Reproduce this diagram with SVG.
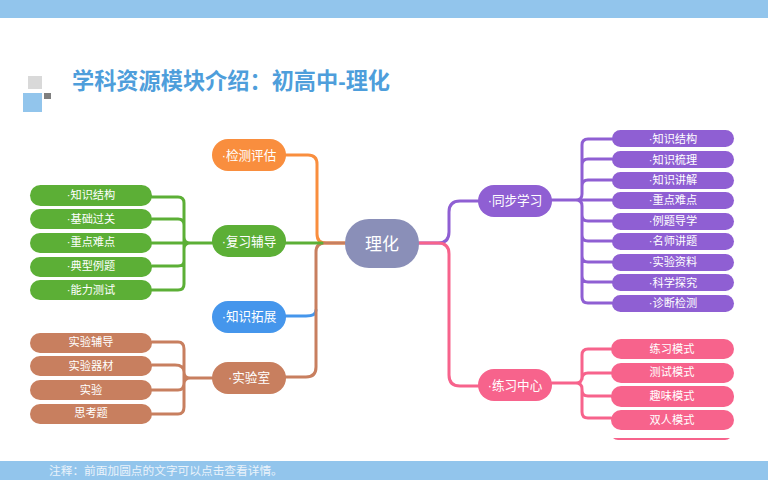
<svg xmlns="http://www.w3.org/2000/svg" width="768" height="480" viewBox="0 0 768 480">
<style>
text{font-family:"Liberation Sans","Noto Sans CJK SC",sans-serif;text-anchor:middle;fill:#fff}
.l{font-size:11.2px}
.m{font-size:12.6px}
.c{font-size:17px}
.w{fill:none;stroke-width:3;stroke-linejoin:round;stroke-linecap:round}
.gr{fill:#5CAF36}.or{fill:#F98E3E}.bl{fill:#4596EC}.br{fill:#C87F5F}.pu{fill:#8F5FD3}.pk{fill:#F7638C}
.sg{stroke:#5CAF36}.so{stroke:#F98E3E}.sb{stroke:#4596EC}.sr{stroke:#C87F5F}.sp{stroke:#8F5FD3}.sk{stroke:#F7638C}
</style>
<rect width="768" height="18" fill="#92C5EC"/>
<rect y="461" width="768" height="19" fill="#92C5EC"/>
<rect x="28" y="76" width="14" height="13" fill="#D9D9D9"/>
<rect x="23" y="93" width="19" height="19" fill="#92C5EC"/>
<rect x="44" y="93" width="7" height="6" fill="#7F7F7F"/>
<text x="72" y="89" font-size="22.2" font-weight="700" style="text-anchor:start;fill:#4E9EDB">学科资源模块介绍：初高中-理化</text>
<text x="49" y="475" font-size="11.7" style="text-anchor:start;fill:#EAF3FB">注释：前面加圆点的文字可以点击查看详情。</text>
<g id="connectors">
<path class="w so" d="M285 155H308Q317 155 317 164V234Q317 243 326 243H345"/>
<path class="w sb" d="M285 316H306Q316 316 316 310"/>
<path class="w sr" d="M285 377H306Q316 377 316 367V252Q316 243 325 243H345"/>
<path class="w sg" d="M285 243H322"/>
<path class="w sg" d="M212 243H190Q184 243 184 237V203Q184 197 178 197H152M152 219H178Q184 219 184 225V261Q184 266 178 266H152M152 243H190M190 243Q184 243 184 249V284Q184 290 178 290H152"/>
<path class="w sr" d="M212 378H190Q184 378 184 372V349Q184 342 178 342H152M152 365H175Q184 365 184 372V383Q184 390 178 390H152M190 378Q184 378 184 384V407Q184 414 178 414H152"/>
<path class="w sp" d="M419 243H438Q449 243 449 232V212Q449 201 460 201H478"/>
<path class="w sk" d="M419 243H438Q449 243 449 254V375Q449 386 460 386H478"/>
<path class="w sp" d="M552 200H576Q582 200 582 194V145Q582 139 588 139H612M612 159H588Q582 159 582 165M612 180H588Q582 180 582 186M576 200H612M576 200Q582 200 582 206V297Q582 303 588 303H612M582 215Q582 221 588 221H612M582 235Q582 241 588 241H612M582 256Q582 262 588 262H612M582 276Q582 282 588 282H612"/>
<path class="w sk" d="M552 383H576Q582 383 582 377V355Q582 349 588 349H611M611 373H588Q582 373 582 379M576 383Q582 383 582 389V412Q582 418 588 418H611M582 390Q582 396 588 396H611"/>
</g>
<g id="center"><rect x="345" y="219" width="74" height="49" rx="24" fill="#8A8FB8"/><text class="c" x="382" y="250">理化</text></g>
<g id="jiance"><rect class="or" x="212" y="139" width="74" height="32" rx="16"/><text class="m" x="249" y="160">·检测评估</text></g>
<g id="fuxi"><rect class="gr" x="212" y="225" width="74" height="32" rx="16"/><text class="m" x="249" y="246">·复习辅导</text></g>
<g id="tuozhan"><rect class="bl" x="212" y="301" width="74" height="32" rx="16"/><text class="m" x="249" y="321">·知识拓展</text></g>
<g id="shiyan"><rect class="br" x="212" y="362" width="74" height="32" rx="16"/><text class="m" x="249" y="382">·实验室</text></g>
<g id="tongbu"><rect class="pu" x="478" y="185" width="74" height="32" rx="16"/><text class="m" x="515" y="205">·同步学习</text></g>
<g id="lianxi"><rect class="pk" x="478" y="369" width="74" height="32" rx="16"/><text class="m" x="515" y="390">·练习中心</text></g>
<g id="g1"><rect class="gr" x="30" y="185" width="122" height="21" rx="10.5"/><text class="l" x="91" y="199">·知识结构</text></g>
<g id="g2"><rect class="gr" x="30" y="209" width="122" height="20" rx="10"/><text class="l" x="91" y="223">·基础过关</text></g>
<g id="g3"><rect class="gr" x="30" y="233" width="122" height="20" rx="10"/><text class="l" x="91" y="246">·重点难点</text></g>
<g id="g4"><rect class="gr" x="30" y="257" width="122" height="20" rx="10"/><text class="l" x="91" y="270">·典型例题</text></g>
<g id="g5"><rect class="gr" x="30" y="280" width="122" height="20" rx="10"/><text class="l" x="91" y="294">·能力测试</text></g>
<g id="b1"><rect class="br" x="30" y="333" width="122" height="20" rx="10"/><text class="l" x="91" y="346">实验辅导</text></g>
<g id="b2"><rect class="br" x="30" y="356" width="122" height="20" rx="10"/><text class="l" x="91" y="370">实验器材</text></g>
<g id="b3"><rect class="br" x="30" y="380" width="122" height="20" rx="10"/><text class="l" x="91" y="394">实验</text></g>
<g id="b4"><rect class="br" x="30" y="404" width="122" height="20" rx="10"/><text class="l" x="91" y="417">思考题</text></g>
<g id="p1"><rect class="pu" x="612" y="130" width="122" height="17" rx="8.5"/><text class="l" x="673" y="143">·知识结构</text></g>
<g id="p2"><rect class="pu" x="612" y="151" width="122" height="17" rx="8.5"/><text class="l" x="673" y="164">·知识梳理</text></g>
<g id="p3"><rect class="pu" x="612" y="172" width="122" height="17" rx="8.5"/><text class="l" x="673" y="184">·知识讲解</text></g>
<g id="p4"><rect class="pu" x="612" y="192" width="122" height="17" rx="8.5"/><text class="l" x="673" y="204">·重点难点</text></g>
<g id="p5"><rect class="pu" x="612" y="213" width="122" height="17" rx="8.5"/><text class="l" x="673" y="225">·例题导学</text></g>
<g id="p6"><rect class="pu" x="612" y="233" width="122" height="17" rx="8.5"/><text class="l" x="673" y="245">·名师讲题</text></g>
<g id="p7"><rect class="pu" x="612" y="254" width="122" height="17" rx="8.5"/><text class="l" x="673" y="266">·实验资料</text></g>
<g id="p8"><rect class="pu" x="612" y="274" width="122" height="17" rx="8.5"/><text class="l" x="673" y="287">·科学探究</text></g>
<g id="p9"><rect class="pu" x="612" y="295" width="122" height="17" rx="8.5"/><text class="l" x="673" y="307">·诊断检测</text></g>
<g id="k1"><rect class="pk" x="611" y="339" width="123" height="20" rx="10"/><text class="l" x="672" y="353">练习模式</text></g>
<g id="k2"><rect class="pk" x="611" y="363" width="123" height="20" rx="10"/><text class="l" x="672" y="376">测试模式</text></g>
<g id="k3"><rect class="pk" x="611" y="386" width="123" height="21" rx="10"/><text class="l" x="672" y="400">趣味模式</text></g>
<g id="k4"><rect class="pk" x="611" y="410" width="123" height="20" rx="10"/><text class="l" x="672" y="424">双人模式</text></g>
<path class="pk" d="M613 438H730Q728 440 725 440H618Q615 440 613 438Z"/>
</svg>
